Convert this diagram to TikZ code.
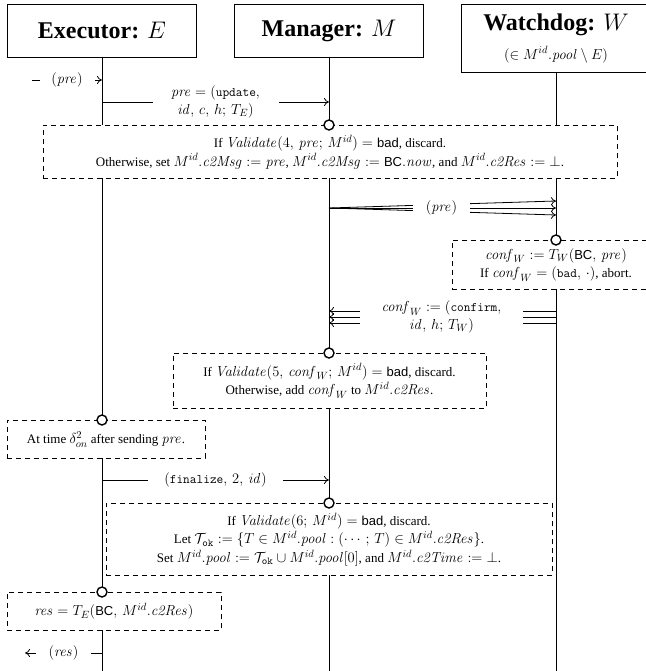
\RequirePackage{fix-cm}
\documentclass[tikz,border=0pt]{standalone}
\usepackage[no-math]{fontspec}
\setmainfont{Liberation Serif}
\setsansfont{Liberation Sans}
\usepackage{amsmath,amssymb}
\usetikzlibrary{arrows.meta}

\DeclareMathSizes{13}{14.5}{10.5}{8}
\newcommand{\titlefont}{\fontsize{24}{28}\selectfont}
\newcommand{\actfont}{\fontsize{13}{18.5}\selectfont}
\newcommand{\msgfont}{\fontsize{13}{17.5}\selectfont}

\begin{document}
\begin{tikzpicture}[x=1pt, y=-1pt, line width=0.8pt, >={To[length=5pt,width=8pt]},
	actor/.style={draw, minimum width=189pt, minimum height=53pt, inner sep=0pt},
	act/.style={draw, dash pattern=on 5pt off 4pt, fill=white, anchor=north, align=center, inner sep=0pt, font=\actfont},
	ev/.style={circle, draw, line width=1.4pt, fill=white, minimum size=10pt, inner sep=0pt},
	msg/.style={->},
	lbl/.style={fill=white, align=center, inner sep=0pt, font=\msgfont}]
	\useasboundingbox (0,0) rectangle (645,671);

	\node[actor] (exec) at (102,30.5) {\titlefont\textbf{Executor:} $E$};
	\node[actor] (mgr) at (329,30.5) {\titlefont\textbf{Manager:} $M$};
	\node[actor, minimum height=68pt, align=center, font=\titlefont] (wdog) at (556,38)
		{\textbf{Watchdog:} $W$\\[1pt] {\msgfont$(\in M^{id}.\mathit{pool} \setminus E)$}};

	\coordinate (eEnd) at (102,671);
	\coordinate (mEnd) at (329,671);
	\coordinate (wEnd) at (556,671);
	\draw (exec) -- (eEnd);
	\draw (mgr) -- (mEnd);
	\draw (wdog) -- (wEnd);

	\coordinate (in0) at (32,80);
	\coordinate (e0) at (102,80);
	\draw[msg] (in0) -- node[lbl, minimum width=55pt] {$(\mathit{pre})$} (e0);

	\coordinate (e1) at (102,102);
	\coordinate (m1) at (329,102);
	\draw[msg] (e1) -- node[lbl, minimum width=126pt] {$\mathit{pre} = (\texttt{update},$\\$\mathit{id},\, c,\, h;\, T_E)$} (m1);

	\coordinate (m2) at (329,208);
	\coordinate (w2a) at (556,201);
	\coordinate (w2b) at (556,208);
	\coordinate (w2c) at (556,215);
	\draw[msg] (m2) -- (w2a);
	\draw[msg] (m2) -- (w2b);
	\draw[msg] (m2) -- (w2c);
	\node[lbl, minimum width=57pt, minimum height=16pt] (pre2) at (441.5,208) {$(\mathit{pre})$};

	\coordinate (w3a) at (556,311);
	\coordinate (w3b) at (556,317);
	\coordinate (w3c) at (556,323);
	\coordinate (m3a) at (329,311);
	\coordinate (m3b) at (329,317);
	\coordinate (m3c) at (329,323);
	\draw[msg] (w3a) -- (m3a);
	\draw[msg] (w3b) -- (m3b);
	\draw[msg] (w3c) -- (m3c);
	\node[lbl, minimum width=163pt, minimum height=24pt] (conf) at (441.5,317) {$\mathit{conf}_W := (\texttt{confirm},$\\$\mathit{id},\, h;\, T_W)$};

	\coordinate (e4) at (102,480);
	\coordinate (m4) at (329,480);
	\draw[msg] (e4) -- node[lbl, minimum width=135pt] {$(\texttt{finalize},\, 2,\, \mathit{id})$} (m4);

	\coordinate (e5) at (102,653);
	\coordinate (out5) at (25,653);
	\draw[msg] (e5) -- node[lbl, minimum width=55pt] {$(\mathit{res})$} (out5);

	\node[act, minimum width=574pt, minimum height=53pt] (b1) at (330,125)
		{If $\mathit{Validate}(4,\, \mathit{pre};\, M^{id}) = \textsf{bad}$, discard.\\
		Otherwise, set $M^{id}.\mathit{c2Msg} := \mathit{pre}$, $M^{id}.\mathit{c2Msg} := \textsf{BC}.\mathit{now}$, and $M^{id}.\mathit{c2Res} := \bot$.};
	\node[act, minimum width=208pt, minimum height=49pt] (b2) at (556,240)
		{$\mathit{conf}_W := T_W(\textsf{BC},\, \mathit{pre})$\\
		If $\mathit{conf}_W = (\texttt{bad},\, \cdot)$, abort.};
	\node[act, minimum width=313pt, minimum height=55pt] (b3) at (329.5,353)
		{If $\mathit{Validate}(5,\, \mathit{conf}_W;\, M^{id}) = \textsf{bad}$, discard.\\
		Otherwise, add $\mathit{conf}_W$ to $M^{id}.\mathit{c2Res}$.};
	\node[act, minimum width=198pt, minimum height=38pt] (b4) at (106,420)
		{At time $\delta^{2}_{on}$ after sending $\mathit{pre}$.};
	\node[act, minimum width=446pt, minimum height=72pt] (b5) at (329,503)
		{If $\mathit{Validate}(6;\, M^{id}) = \textsf{bad}$, discard.\\
		Let $\mathcal{T}_{\texttt{ok}} := \{T \in M^{id}.\mathit{pool} : (\cdots;\, T) \in M^{id}.\mathit{c2Res}\}$.\\
		Set $M^{id}.\mathit{pool} := \mathcal{T}_{\texttt{ok}} \cup M^{id}.\mathit{pool}[0]$, and $M^{id}.\mathit{c2Time} := \bot$.};
	\node[act, minimum width=214pt, minimum height=38pt] (b6) at (114,592)
		{$\mathit{res} = T_E(\textsf{BC},\, M^{id}.\mathit{c2Res})$};

	\node[ev] (c1) at (329,125) {};
	\node[ev] (c2) at (556,240) {};
	\node[ev] (c3) at (329,353) {};
	\node[ev] (c4) at (102,420) {};
	\node[ev] (c5) at (329,503) {};
	\node[ev] (c6) at (102,592) {};
\end{tikzpicture}
\end{document}
